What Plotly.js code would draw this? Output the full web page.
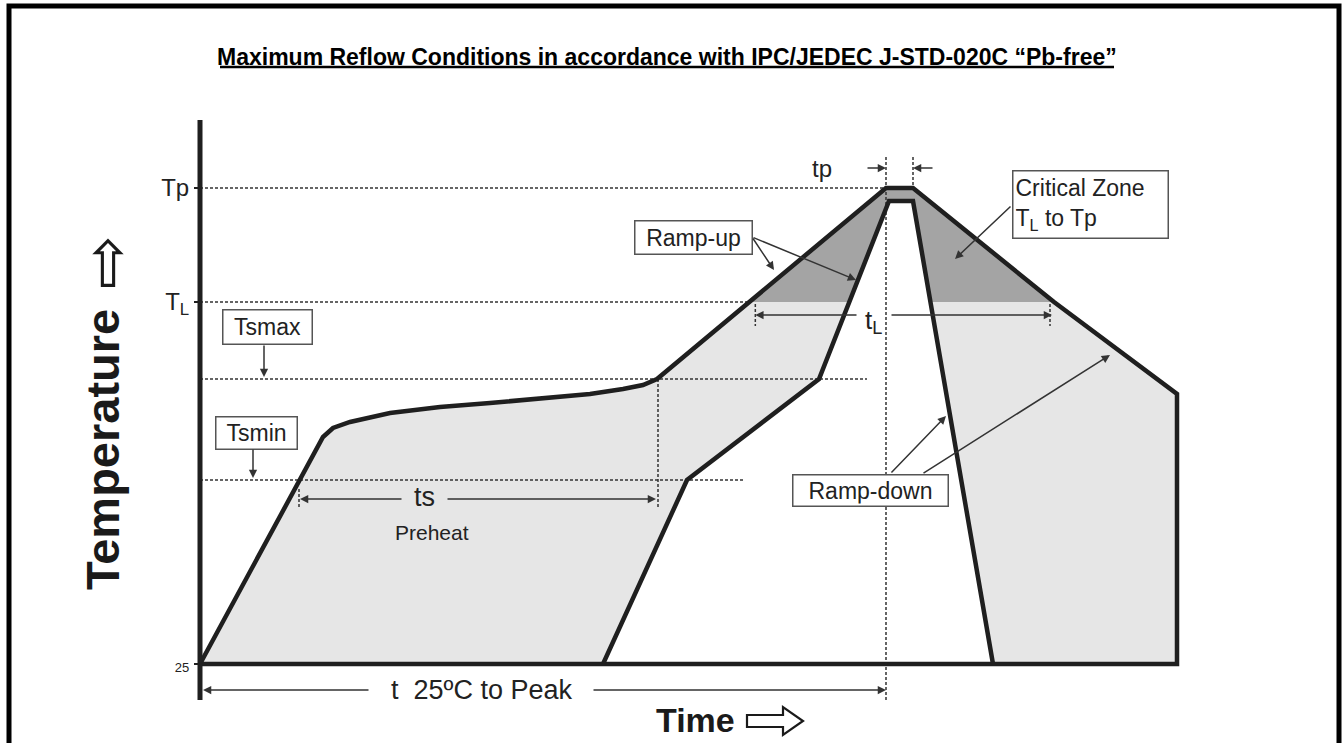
<!DOCTYPE html>
<html>
<head>
<meta charset="utf-8">
<script src="https://cdn.plot.ly/plotly-3.0.1.min.js"></script>
<style>html,body{margin:0;padding:0;background:#fff;}#chart{width:1343px;height:743px;}</style>
</head>
<body>
<div id="chart"></div>
<script>
// ---- data (schematic units: time along x, temperature along y) ----
const outerTime = [0, 123, 133, 150, 190, 240, 290, 340, 390, 423, 443, 457, 686, 713, 854, 977, 977];
const outerTemp = [0, 227, 236, 242, 251, 257, 261, 265, 270, 275, 279, 285, 476, 476, 362, 270, 0];
const innerTime = [403, 487, 619, 689, 713, 793];
const innerTemp = [0, 184, 285, 463, 463, 0];
const levelNames = ['Tp', 'T<sub>L</sub>', 'Tsmax', 'Tsmin', '25'];
const levelTemps = [476, 362, 285, 184, 0];
const tickLabels = ['<span style="font-size:13px">25</span>', 'T<sub>L</sub>', 'Tp'];
const tickTemps = [0, 362, 476];
const TP = levelTemps[0], TL = levelTemps[1], TSMAX = levelTemps[2], TSMIN = levelTemps[3];

// crossing of a polyline with a temperature level
function crossings(xs, ys, level) {
  const out = [];
  for (let i = 0; i < xs.length - 1; i++) {
    const y0 = ys[i], y1 = ys[i + 1];
    if ((y0 - level) * (y1 - level) < 0 || (y0 !== y1 && y1 === level)) {
      const f = (level - y0) / (y1 - y0);
      out.push(xs[i] + f * (xs[i + 1] - xs[i]));
    }
  }
  return out;
}
// part of polygon above a level
function clipAbove(xs, ys, level) {
  const rx = [], ry = [];
  const n = xs.length;
  for (let i = 0; i < n; i++) {
    const j = (i + 1) % n;
    const a = ys[i] >= level, b = ys[j] >= level;
    if (a) { rx.push(xs[i]); ry.push(ys[i]); }
    if (a !== b) {
      const f = (level - ys[i]) / (ys[j] - ys[i]);
      rx.push(xs[i] + f * (xs[j] - xs[i])); ry.push(level);
    }
  }
  rx.push(rx[0]); ry.push(ry[0]);
  return [rx, ry];
}

const tlCross = crossings(outerTime, outerTemp, TL);   // [left, right]
const peakStart = outerTime[outerTemp.indexOf(TP)];
const peakEnd = outerTime[outerTemp.lastIndexOf(TP)];
const dark = clipAbove(outerTime, outerTemp, TL);

// ---- helpers: figure pixel -> data (layout placement only) ----
const X0 = 200, Y0 = 664;
const dx = p => p - X0;
const dy = p => Y0 - p;

const INK = '#1f1f1f';
const GUIDE = {color: '#333333', width: 1.5, dash: '3px,2px'};
function guide(xs, ys) {
  return {x: xs, y: ys, mode: 'lines', line: GUIDE, hoverinfo: 'skip', showlegend: false};
}

const traces = [
  {x: outerTime, y: outerTemp, mode: 'lines', fill: 'toself', fillcolor: '#e6e6e6',
   line: {width: 0}, hoverinfo: 'skip', showlegend: false},
  {x: dark[0], y: dark[1], mode: 'lines', fill: 'toself', fillcolor: '#a4a4a4',
   line: {width: 0}, hoverinfo: 'skip', showlegend: false},
  {x: innerTime, y: innerTemp, mode: 'lines', fill: 'toself', fillcolor: '#ffffff',
   line: {width: 0}, hoverinfo: 'skip', showlegend: false},
  // guide lines
  guide([0, peakStart], [TP, TP]),
  guide([0, tlCross[0]], [TL, TL]),
  guide([0, dx(867)], [TSMAX, TSMAX]),
  guide([0, dx(745)], [TSMIN, TSMIN]),
  guide([peakStart, peakStart], [dy(157), dy(700)]),
  guide([peakEnd, peakEnd], [dy(157), TP]),
  guide([dx(658), dx(658)], [TSMAX, dy(507)]),
  guide([dx(299), dx(299)], [dy(489), dy(507)]),
  guide([tlCross[0] + 6, tlCross[0] + 6], [dy(304), dy(326)]),
  guide([tlCross[1] - 4, tlCross[1] - 4], [dy(304), dy(326)]),
  // profile outlines
  {x: outerTime.concat([outerTime[0]]), y: outerTemp.concat([outerTemp[0]]), mode: 'lines',
   line: {color: INK, width: 4.5}, hoverinfo: 'skip', showlegend: false},
  {x: innerTime, y: innerTemp, mode: 'lines',
   line: {color: INK, width: 4.5}, hoverinfo: 'skip', showlegend: false},
  // temperature axis line
  {x: [0, 0], y: [dy(120), dy(700)], mode: 'lines', line: {color: INK, width: 5},
   hoverinfo: 'skip', showlegend: false}
];

const FONT = 'Liberation Sans, Arial, Helvetica, sans-serif';
function txt(px, py, text, size, extra) {
  return Object.assign({x: dx(px), y: dy(py), xref: 'x', yref: 'y', text: text, showarrow: false,
    font: {family: FONT, size: size, color: '#222'}, xanchor: 'center', yanchor: 'middle'}, extra || {});
}
function box(px, py, text, w, h, extra) {
  return txt(px, py, text, 23, Object.assign({bordercolor: '#555', borderwidth: 1.5, borderpad: 2,
    bgcolor: '#ffffff', width: w, height: h}, extra || {}));
}
function arrow(tx, ty, hx, hy) {
  return {x: dx(hx), y: dy(hy), ax: dx(tx), ay: dy(ty), xref: 'x', yref: 'y', axref: 'x', ayref: 'y',
    text: '', showarrow: true, arrowhead: 2, arrowsize: 1.1, arrowwidth: 1.5, arrowcolor: '#333', standoff: 0};
}
// outlined block arrow (decoration next to the "Time" label)
function blockArrowPath(x0, x1, yc, shaftHalf, headHalf, headLen) {
  const pts = [[x0, yc - shaftHalf], [x1 - headLen, yc - shaftHalf], [x1 - headLen, yc - headHalf], [x1, yc],
    [x1 - headLen, yc + headHalf], [x1 - headLen, yc + shaftHalf], [x0, yc + shaftHalf]];
  return 'M' + pts.map(p => dx(p[0]) + ',' + dy(p[1])).join(' L') + ' Z';
}

const annotations = [
  {x: 667 / 1343, y: 1 - 57 / 743, xref: 'paper', yref: 'paper', showarrow: false,
   text: '<b>Maximum Reflow Conditions in accordance with IPC/JEDEC J-STD-020C \u201cPb-free\u201d</b>',
   font: {family: FONT, size: 23, color: '#000'}, xanchor: 'center', yanchor: 'middle'},
  // axis titles
  txt(102, 450, '<b>Temperature</b>', 47, {textangle: -90, font: {family: FONT, size: 47, color: '#1a1a1a'}}),
  txt(106, 262, '\u21e8', 64, {textangle: -90, font: {family: 'DejaVu Sans', size: 64, color: '#1a1a1a'}}),
  txt(695, 720, '<b>Time</b>', 34, {font: {family: FONT, size: 34, color: '#1a1a1a'}}),
  // boxes
  box(267, 327, levelNames[2], 84, 29),
  box(256, 433, levelNames[3], 76, 27),
  box(693, 237, 'Ramp-up', 112, 28),
  box(870, 490, 'Ramp-down', 150, 26),
  box(1090, 204, 'Critical Zone<br>T<sub>L</sub> to Tp', 150, 62, {align: 'left', xanchor: 'center'}),
  // box arrows
  arrow(264, 344, 264, 377),
  arrow(253, 448, 253, 478),
  arrow(752, 237, 774, 270),
  arrow(752, 237, 856, 280),
  arrow(1012, 205, 955, 259),
  arrow(890, 474, 946, 416),
  arrow(922, 474, 1110, 355),
  // tp
  txt(822, 168, 'tp', 24),
  arrow(866, 168, 886, 168),
  arrow(934, 168, 913, 168),
  // tL
  txt(873, 321, 't<sub>L</sub>', 26),
  arrow(858, 315, tlCross[0] + 206, 315),
  arrow(890, 315, tlCross[1] + 198, 315),
  // ts
  txt(424, 497, 'ts', 27),
  txt(432, 532, 'Preheat', 21),
  arrow(403, 499, 300, 499),
  arrow(446, 499, 656, 499),
  // t 25 to peak
  txt(481, 690, 't  25\u00baC to Peak', 27),
  arrow(370, 690, 203, 690),
  arrow(592, 690, 886, 690)
];

const layout = {
  width: 1343, height: 743,
  margin: {l: 0, r: 0, t: 0, b: 0},
  paper_bgcolor: '#ffffff', plot_bgcolor: '#ffffff',
  showlegend: false,
  xaxis: {range: [dx(0), dx(1343)], visible: false, fixedrange: true},
  yaxis: {range: [dy(743), dy(0)], fixedrange: true, showgrid: false, zeroline: false, showline: false,
    anchor: 'free', position: X0 / 1343, side: 'left',
    tickvals: tickTemps, ticktext: tickLabels, ticks: 'outside', ticklen: 6, tickwidth: 2, tickcolor: INK,
    tickfont: {family: FONT, size: 24, color: '#222'}},
  shapes: [
    {type: 'rect', xref: 'paper', yref: 'paper', x0: 9 / 1343, x1: 1339 / 1343, y0: -0.2, y1: 1 - 6 / 743,
     line: {color: '#000', width: 5}, fillcolor: 'rgba(0,0,0,0)'},
    {type: 'line', xref: 'paper', yref: 'paper', x0: 220 / 1343, x1: 1114 / 1343, y0: 1 - 67 / 743, y1: 1 - 67 / 743,
     line: {color: '#000', width: 2.6}},
    {type: 'path', xref: 'x', yref: 'y', path: blockArrowPath(747, 803, 721, 6, 14, 20),
     line: {color: '#1a1a1a', width: 2.2}, fillcolor: '#ffffff'}
  ],
  annotations: annotations
};

Plotly.newPlot('chart', traces, layout, {staticPlot: true, displayModeBar: false});
</script>
</body>
</html>
